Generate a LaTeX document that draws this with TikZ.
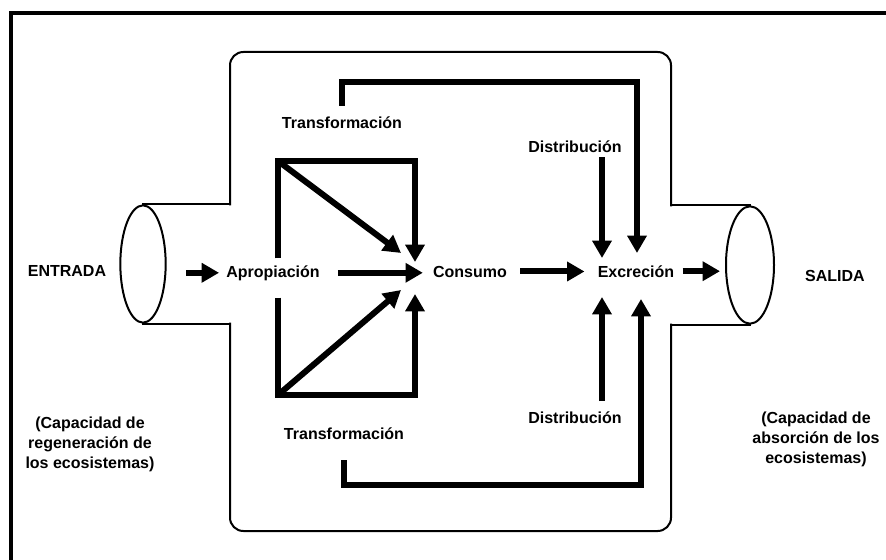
\documentclass[tikz,border=0pt]{standalone}
\usepackage{fontspec}
\setmainfont{Liberation Sans}
\usepackage{tikz}
\usetikzlibrary{arrows.meta,positioning,calc,shapes.geometric}

\begin{document}
\begin{tikzpicture}[
  x=0.75pt, y=-0.75pt,
  txt/.style={font=\fontsize{12}{15}\selectfont\bfseries, inner sep=0pt, anchor=base},
  note/.style={font=\fontsize{12}{15}\selectfont\bfseries, inner sep=0pt, align=center},
  flow/.style={-{Triangle[length=13pt, width=14pt]}, line width=4.5pt},
  wall/.style={line width=1.5pt, line cap=rect},
  pipe/.style={ellipse, draw, line width=1.5pt, minimum width=34pt, minimum height=88pt, inner sep=0pt},
]
\useasboundingbox (0,0) rectangle (886,560);

% ─── Frame ───
\draw[line width=3pt] (11,600) -- (11,13) -- (900,13);

% ─── Pipes and container ───
\node[pipe] (pipeL) at (143,264) {};
\node[pipe, minimum width=36pt] (pipeR) at (750,265) {};

\coordinate (wl) at (230,0);
\coordinate (wr) at (671,0);

\draw[wall] (pipeL.north) -- (pipeL.north -| wl);
\draw[wall, rounded corners=10pt] (pipeL.north -| wl) -- (230,52) -- (671,52) -- (pipeR.north -| wr);
\draw[wall] (pipeR.north -| wr) -- (pipeR.north);
\draw[wall] (pipeL.south) -- (pipeL.south -| wl);
\draw[wall, rounded corners=10pt] (pipeL.south -| wl) -- (230,531) -- (671,531) -- (pipeR.south -| wr);
\draw[wall] (pipeR.south -| wr) -- (pipeR.south);

% ─── Labels ───
\node[txt] (entrada) at (67,276) {ENTRADA};
\node[txt] (apro) at (273,277) {Apropiación};
\node[txt] (cons) at (470,277) {Consumo};
\node[txt] (excr) at (636,277) {Excreción};
\node[txt] (salida) at (835,281) {SALIDA};
\node[txt] (transT) at (342,128) {Transformación};
\node[txt] (transB) at (344,439) {Transformación};
\node[txt] (distT) at (575,152) {Distribución};
\node[txt] (distB) at (575,423) {Distribución};

\node[note] (capL) at (90,444) {(Capacidad de\\regeneración de\\los ecosistemas)};
\node[note] (capR) at (816,439) {(Capacidad de\\absorción de los\\ecosistemas)};

% ─── Main flow ───
\draw[flow, shorten <=14.5pt, shorten >=5.25pt] (pipeL.east |- apro.west) -- (apro.west);
\draw[flow, shorten <=13.5pt, shorten >=7.5pt] (apro.east) -- (apro.east -| cons.west);
\draw[flow, shorten <=9.75pt, shorten >=9.75pt] (cons.east) -- (cons.east -| excr.west);
\draw[flow, shorten <=6pt, shorten >=3.75pt] (excr.east) -- (excr.east -| pipeR.west);

% ─── Transformation brackets ───
\coordinate (ul) at (278,161);
\coordinate (ur) at (415,161);
\coordinate (ctipU) at (415,262);
\coordinate (cdiagU) at (401,253);
\coordinate (ll) at (278,395);
\coordinate (lr) at (415,395);
\coordinate (ctipL) at (415,294);
\coordinate (cdiagL) at (401,290);

\draw[flow, shorten <=5pt] (apro.north -| ul) -- (ul) -- (ur) -- (ctipU);
\draw[flow] (ul) -- (cdiagU);
\draw[flow, shorten <=12.75pt] (apro.south -| ll) -- (ll) -- (lr) -- (ctipL);
\draw[flow] (ll) -- (cdiagL);

% ─── Routes to excretion ───
\coordinate (tr) at (637,82);
\coordinate (etipT) at (637,253);
\coordinate (etipD) at (602,258);
\coordinate (br) at (641,485);
\coordinate (etipB) at (641,299);
\coordinate (etipDB) at (602,297);

\draw[flow, shorten <=7.5pt] (transT.north) -- (transT.north |- tr) -- (tr) -- (etipT);
\draw[flow, shorten <=3.75pt] (distT.south -| etipD) -- (etipD);
\draw[flow, shorten <=15.75pt] (transB.south) -- (transB.south |- br) -- (br) -- (etipB);
\draw[flow, shorten <=7.5pt] (distB.north -| etipDB) -- (etipDB);

\end{tikzpicture}
\end{document}
